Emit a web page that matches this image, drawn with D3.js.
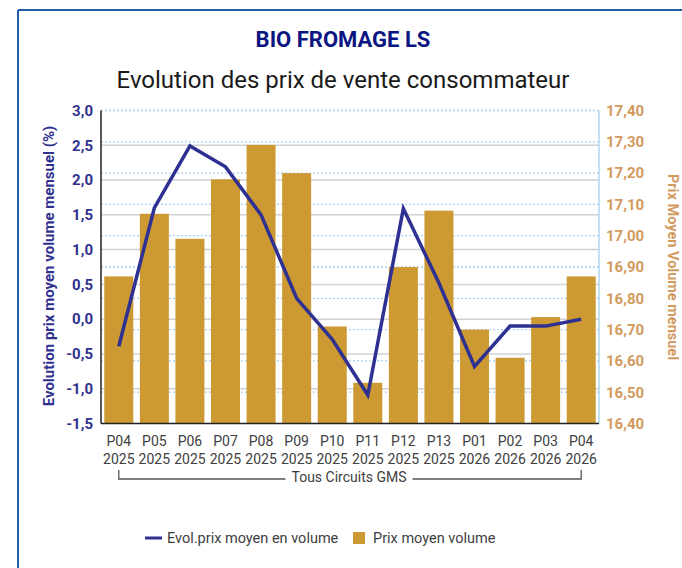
<!DOCTYPE html>
<html>
<head>
<meta charset="utf-8">
<script src="https://cdn.jsdelivr.net/npm/d3@7"></script>
<style>
  html, body { margin: 0; padding: 0; background: #fff; }
  svg { display: block; font-family: Roboto, "Noto Sans", sans-serif; }
</style>
</head>
<body>
<svg id="chart" width="682" height="568"></svg>
<script>
// Periods (two-line labels)
const periods = ["P04", "P05", "P06", "P07", "P08", "P09", "P10", "P11", "P12", "P13", "P01", "P02", "P03", "P04"];
const years   = ["2025", "2025", "2025", "2025", "2025", "2025", "2025", "2025", "2025", "2025", "2026", "2026", "2026", "2026"];

// Average monthly price per volume (right axis, €)
const prixMoyen = [16.87, 17.07, 16.99, 17.18, 17.29, 17.20, 16.71, 16.53, 16.90, 17.08, 16.70, 16.61, 16.74, 16.87];

// Monthly change in average price (left axis, %)
const evolPrix = [-0.39, 1.60, 2.49, 2.19, 1.50, 0.30, -0.29, -1.09, 1.59, 0.52, -0.68, -0.10, -0.10, 0.00];

// Axis ticks
const leftTicks  = [3.0, 2.5, 2.0, 1.5, 1.0, 0.5, 0.0, -0.5, -1.0, -1.5];
const rightTicks = [17.4, 17.3, 17.2, 17.1, 17.0, 16.9, 16.8, 16.7, 16.6, 16.5, 16.4];

const svg = d3.select("#chart");
const W = 682, H = 568;
const plot = { left: 101, right: 599, top: 110.5, bottom: 423.5 };

const barColor = "#cc9933";
const lineColor = "#2e3192";
const leftColor = "#30318f";
const rightColor = "#d39a5f";
const textGrey = "#404040";

const frFmt1 = d => d.toFixed(1).replace(".", ",");
const frFmt2 = d => d.toFixed(2).replace(".", ",");

// Frame
svg.append("line").attr("x1", 18).attr("x2", W).attr("y1", 10).attr("y2", 10)
  .attr("stroke", "#1f5fa8").attr("stroke-width", 2);
svg.append("line").attr("x1", 18).attr("x2", 18).attr("y1", 10).attr("y2", H)
  .attr("stroke", "#1f5fa8").attr("stroke-width", 2);

// Titles
svg.append("text").attr("x", 343).attr("y", 47).attr("text-anchor", "middle")
  .attr("font-size", 22).attr("font-weight", "bold").attr("fill", "#0b1581")
  .text("BIO FROMAGE LS");
svg.append("text").attr("x", 343).attr("y", 88).attr("text-anchor", "middle")
  .attr("font-size", 24).attr("fill", "#1a1a1a")
  .text("Evolution des prix de vente consommateur");

// Scales
const idx = d3.range(periods.length);
const x = d3.scaleBand().domain(idx).range([plot.left, plot.right]).paddingInner(0.185).paddingOuter(0.0925);
const yL = d3.scaleLinear().domain([-1.5, 3.0]).range([plot.bottom, plot.top]);
const yR = d3.scaleLinear().domain([16.4, 17.4]).range([plot.bottom, plot.top]);

// Grid: solid grey on left ticks, dotted blue on right ticks
const grid = svg.append("g");
grid.selectAll(".gl").data(leftTicks.slice(1, -1)).join("line")
  .attr("x1", plot.left).attr("x2", plot.right)
  .attr("y1", d => yL(d)).attr("y2", d => yL(d))
  .attr("stroke", "#d2d2d2").attr("stroke-width", 1.5);
grid.selectAll(".gr").data(rightTicks.slice(0, -1)).join("line")
  .attr("x1", plot.left).attr("x2", plot.right)
  .attr("y1", d => yR(d)).attr("y2", d => yR(d))
  .attr("stroke", "#a6d0f2").attr("stroke-width", 1.3).attr("stroke-dasharray", "2,2");

// Bars (right axis)
svg.append("g").selectAll("rect").data(prixMoyen).join("rect")
  .attr("x", (d, i) => x(i)).attr("width", x.bandwidth())
  .attr("y", d => yR(d)).attr("height", d => plot.bottom - yR(d))
  .attr("fill", barColor);

// Axes lines
svg.append("line").attr("x1", plot.right).attr("x2", plot.right).attr("y1", plot.top).attr("y2", plot.bottom)
  .attr("stroke", "#a6d0f2").attr("stroke-width", 1.3);
svg.append("line").attr("x1", plot.left).attr("x2", plot.left).attr("y1", plot.top).attr("y2", plot.bottom)
  .attr("stroke", "#222").attr("stroke-width", 1.5);
svg.append("line").attr("x1", plot.left).attr("x2", plot.right).attr("y1", plot.bottom).attr("y2", plot.bottom)
  .attr("stroke", "#222").attr("stroke-width", 1.5);

// Left axis labels
const leftAxis = d3.axisLeft(yL).tickValues(leftTicks).tickFormat(frFmt1).tickSize(0).tickPadding(8);
const gL = svg.append("g").attr("transform", `translate(${plot.left},0)`).call(leftAxis);
gL.select(".domain").remove();
gL.selectAll("text").attr("font-size", 15).attr("font-weight", "bold").attr("fill", leftColor)
  .attr("font-family", "Roboto, sans-serif");

// Right axis labels
const rightAxis = d3.axisRight(yR).tickValues(rightTicks).tickFormat(frFmt2).tickSize(0).tickPadding(7);
const gR = svg.append("g").attr("transform", `translate(${plot.right},0)`).call(rightAxis);
gR.select(".domain").remove();
gR.selectAll("text").attr("font-size", 15).attr("font-weight", "bold").attr("fill", rightColor)
  .attr("font-family", "Roboto, sans-serif");

// Axis titles
svg.append("text").attr("transform", `translate(54,266) rotate(-90)`).attr("text-anchor", "middle")
  .attr("font-size", 15).attr("font-weight", "bold").attr("fill", leftColor)
  .text("Evolution prix moyen volume mensuel (%)");
svg.append("text").attr("transform", `translate(668,267) rotate(90)`).attr("text-anchor", "middle")
  .attr("font-size", 14.5).attr("font-weight", "bold").attr("fill", rightColor)
  .text("Prix Moyen Volume mensuel");

// Category labels (two lines)
const xl = svg.append("g").selectAll("text").data(idx).join("text")
  .attr("x", i => x(i) + x.bandwidth() / 2)
  .attr("text-anchor", "middle").attr("font-size", 14).attr("fill", textGrey);
xl.append("tspan").attr("x", i => x(i) + x.bandwidth() / 2).attr("y", 446).text(i => periods[i]);
xl.append("tspan").attr("x", i => x(i) + x.bandwidth() / 2).attr("y", 464).text(i => years[i]);

// Group bracket
const bx1 = x(0) + x.bandwidth() / 2, bx2 = x(idx.length - 1) + x.bandwidth() / 2;
const gTxt = svg.append("text").attr("x", 349).attr("y", 482).attr("text-anchor", "middle")
  .attr("font-size", 14).attr("fill", textGrey).text("Tous Circuits GMS");
const tw = gTxt.node().getComputedTextLength();
const by = 479;
svg.append("path")
  .attr("d", `M${bx1},470V${by}H${349 - tw / 2 - 6}M${349 + tw / 2 + 6},${by}H${bx2}V470`)
  .attr("fill", "none").attr("stroke", "#555").attr("stroke-width", 1.3);

// Line (left axis)
const line = d3.line().x((d, i) => x(i) + x.bandwidth() / 2).y(d => yL(d));
svg.append("path").datum(evolPrix).attr("d", line)
  .attr("fill", "none").attr("stroke", lineColor).attr("stroke-width", 3.5);

// Legend
const lg = svg.append("g");
lg.append("line").attr("x1", 145).attr("x2", 162).attr("y1", 538).attr("y2", 538)
  .attr("stroke", lineColor).attr("stroke-width", 3);
lg.append("text").attr("x", 167).attr("y", 543).attr("font-size", 14.5).attr("fill", textGrey)
  .text("Evol.prix moyen en volume");
lg.append("rect").attr("x", 353).attr("y", 532).attr("width", 12).attr("height", 12).attr("fill", barColor);
lg.append("text").attr("x", 373).attr("y", 543).attr("font-size", 14.5).attr("fill", textGrey)
  .text("Prix moyen volume");
</script>
</body>
</html>
